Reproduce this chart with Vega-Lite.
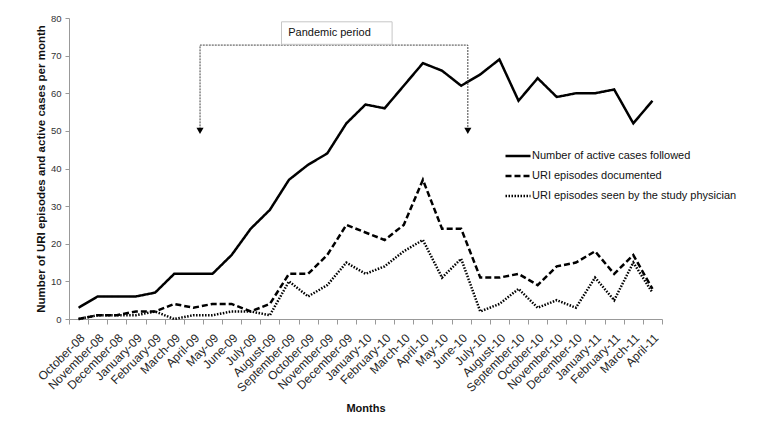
{
  "$schema": "https://vega.github.io/schema/vega-lite/v6.json",
  "width": 593,
  "height": 301,
  "autosize": {"type": "none"},
  "padding": {"left": 69, "top": 18, "right": 98, "bottom": 111},
  "background": "white",
  "config": {
    "view": {"stroke": null},
    "font": "Liberation Sans",
    "axisX": {
      "titleFontSize": 11,
      "titleFontWeight": "bold",
      "titleColor": "#111",
      "titleBaseline": "middle",
      "titleY": 89,
      "labelAngle": -45,
      "labelFontSize": 12,
      "labelColor": "#262626",
      "labelPadding": 8,
      "tickBand": "extent",
      "tickSize": 5,
      "tickColor": "#999",
      "domainColor": "#999",
      "grid": false
    },
    "axisY": {
      "titleFontSize": 11.5,
      "titleFontWeight": "bold",
      "titleColor": "#111",
      "labelFontSize": 9.5,
      "labelColor": "#333",
      "labelPadding": 4,
      "tickSize": 4,
      "tickColor": "#999",
      "domainColor": "#999",
      "grid": false
    }
  },
  "datasets": {
    "series": [
      {"month": "October-08", "series": "Number of active cases followed", "value": 3},
      {"month": "November-08", "series": "Number of active cases followed", "value": 6},
      {"month": "December-08", "series": "Number of active cases followed", "value": 6},
      {"month": "January-09", "series": "Number of active cases followed", "value": 6},
      {"month": "February-09", "series": "Number of active cases followed", "value": 7},
      {"month": "March-09", "series": "Number of active cases followed", "value": 12},
      {"month": "April-09", "series": "Number of active cases followed", "value": 12},
      {"month": "May-09", "series": "Number of active cases followed", "value": 12},
      {"month": "June-09", "series": "Number of active cases followed", "value": 17},
      {"month": "July-09", "series": "Number of active cases followed", "value": 24},
      {"month": "August-09", "series": "Number of active cases followed", "value": 29},
      {"month": "September-09", "series": "Number of active cases followed", "value": 37},
      {"month": "October-09", "series": "Number of active cases followed", "value": 41},
      {"month": "November-09", "series": "Number of active cases followed", "value": 44},
      {"month": "December-09", "series": "Number of active cases followed", "value": 52},
      {"month": "January-10", "series": "Number of active cases followed", "value": 57},
      {"month": "February-10", "series": "Number of active cases followed", "value": 56},
      {"month": "March-10", "series": "Number of active cases followed", "value": 62},
      {"month": "April-10", "series": "Number of active cases followed", "value": 68},
      {"month": "May-10", "series": "Number of active cases followed", "value": 66},
      {"month": "June-10", "series": "Number of active cases followed", "value": 62},
      {"month": "July-10", "series": "Number of active cases followed", "value": 65},
      {"month": "August-10", "series": "Number of active cases followed", "value": 69},
      {"month": "September-10", "series": "Number of active cases followed", "value": 58},
      {"month": "October-10", "series": "Number of active cases followed", "value": 64},
      {"month": "November-10", "series": "Number of active cases followed", "value": 59},
      {"month": "December-10", "series": "Number of active cases followed", "value": 60},
      {"month": "January-11", "series": "Number of active cases followed", "value": 60},
      {"month": "February-11", "series": "Number of active cases followed", "value": 61},
      {"month": "March-11", "series": "Number of active cases followed", "value": 52},
      {"month": "April-11", "series": "Number of active cases followed", "value": 58},
      {"month": "October-08", "series": "URI episodes documented", "value": 0},
      {"month": "November-08", "series": "URI episodes documented", "value": 1},
      {"month": "December-08", "series": "URI episodes documented", "value": 1},
      {"month": "January-09", "series": "URI episodes documented", "value": 2},
      {"month": "February-09", "series": "URI episodes documented", "value": 2},
      {"month": "March-09", "series": "URI episodes documented", "value": 4},
      {"month": "April-09", "series": "URI episodes documented", "value": 3},
      {"month": "May-09", "series": "URI episodes documented", "value": 4},
      {"month": "June-09", "series": "URI episodes documented", "value": 4},
      {"month": "July-09", "series": "URI episodes documented", "value": 2},
      {"month": "August-09", "series": "URI episodes documented", "value": 4},
      {"month": "September-09", "series": "URI episodes documented", "value": 12},
      {"month": "October-09", "series": "URI episodes documented", "value": 12},
      {"month": "November-09", "series": "URI episodes documented", "value": 17},
      {"month": "December-09", "series": "URI episodes documented", "value": 25},
      {"month": "January-10", "series": "URI episodes documented", "value": 23},
      {"month": "February-10", "series": "URI episodes documented", "value": 21},
      {"month": "March-10", "series": "URI episodes documented", "value": 25},
      {"month": "April-10", "series": "URI episodes documented", "value": 37},
      {"month": "May-10", "series": "URI episodes documented", "value": 24},
      {"month": "June-10", "series": "URI episodes documented", "value": 24},
      {"month": "July-10", "series": "URI episodes documented", "value": 11},
      {"month": "August-10", "series": "URI episodes documented", "value": 11},
      {"month": "September-10", "series": "URI episodes documented", "value": 12},
      {"month": "October-10", "series": "URI episodes documented", "value": 9},
      {"month": "November-10", "series": "URI episodes documented", "value": 14},
      {"month": "December-10", "series": "URI episodes documented", "value": 15},
      {"month": "January-11", "series": "URI episodes documented", "value": 18},
      {"month": "February-11", "series": "URI episodes documented", "value": 12},
      {"month": "March-11", "series": "URI episodes documented", "value": 17},
      {"month": "April-11", "series": "URI episodes documented", "value": 8},
      {"month": "October-08", "series": "URI episodes seen by the study physician", "value": 0},
      {"month": "November-08", "series": "URI episodes seen by the study physician", "value": 1},
      {"month": "December-08", "series": "URI episodes seen by the study physician", "value": 1},
      {"month": "January-09", "series": "URI episodes seen by the study physician", "value": 1},
      {"month": "February-09", "series": "URI episodes seen by the study physician", "value": 2},
      {"month": "March-09", "series": "URI episodes seen by the study physician", "value": 0},
      {"month": "April-09", "series": "URI episodes seen by the study physician", "value": 1},
      {"month": "May-09", "series": "URI episodes seen by the study physician", "value": 1},
      {"month": "June-09", "series": "URI episodes seen by the study physician", "value": 2},
      {"month": "July-09", "series": "URI episodes seen by the study physician", "value": 2},
      {"month": "August-09", "series": "URI episodes seen by the study physician", "value": 1},
      {"month": "September-09", "series": "URI episodes seen by the study physician", "value": 10},
      {"month": "October-09", "series": "URI episodes seen by the study physician", "value": 6},
      {"month": "November-09", "series": "URI episodes seen by the study physician", "value": 9},
      {"month": "December-09", "series": "URI episodes seen by the study physician", "value": 15},
      {"month": "January-10", "series": "URI episodes seen by the study physician", "value": 12},
      {"month": "February-10", "series": "URI episodes seen by the study physician", "value": 14},
      {"month": "March-10", "series": "URI episodes seen by the study physician", "value": 18},
      {"month": "April-10", "series": "URI episodes seen by the study physician", "value": 21},
      {"month": "May-10", "series": "URI episodes seen by the study physician", "value": 11},
      {"month": "June-10", "series": "URI episodes seen by the study physician", "value": 16},
      {"month": "July-10", "series": "URI episodes seen by the study physician", "value": 2},
      {"month": "August-10", "series": "URI episodes seen by the study physician", "value": 4},
      {"month": "September-10", "series": "URI episodes seen by the study physician", "value": 8},
      {"month": "October-10", "series": "URI episodes seen by the study physician", "value": 3},
      {"month": "November-10", "series": "URI episodes seen by the study physician", "value": 5},
      {"month": "December-10", "series": "URI episodes seen by the study physician", "value": 3},
      {"month": "January-11", "series": "URI episodes seen by the study physician", "value": 11},
      {"month": "February-11", "series": "URI episodes seen by the study physician", "value": 5},
      {"month": "March-11", "series": "URI episodes seen by the study physician", "value": 15},
      {"month": "April-11", "series": "URI episodes seen by the study physician", "value": 7}
    ],
    "bracket": [
      {"month": "April-09", "value": 50.4, "k": 1},
      {"month": "April-09", "value": 72.8, "k": 2},
      {"month": "June-10", "value": 72.8, "k": 3},
      {"month": "June-10", "value": 50.4, "k": 4}
    ],
    "arrows": [
      {"month": "April-09", "value": 50.0},
      {"month": "June-10", "value": 50.0}
    ],
    "box": [
      {"month": "December-09", "value": 76.0}
    ],
    "label": [
      {"month": "September-09", "value": 75.9, "text": "Pandemic period"}
    ]
  },
  "encoding": {
    "x": {
      "field": "month",
      "type": "ordinal",
      "title": "Months",
      "scale": {
        "type": "band",
        "paddingInner": 0,
        "paddingOuter": 0,
        "domain": ["October-08", "November-08", "December-08", "January-09", "February-09", "March-09", "April-09", "May-09", "June-09", "July-09", "August-09", "September-09", "October-09", "November-09", "December-09", "January-10", "February-10", "March-10", "April-10", "May-10", "June-10", "July-10", "August-10", "September-10", "October-10", "November-10", "December-10", "January-11", "February-11", "March-11", "April-11"]
      }
    },
    "y": {
      "field": "value",
      "type": "quantitative",
      "title": "Number of URI episodes and active cases per month\u00a0\u00a0\u00a0\u00a0\u00a0\u00a0\u00a0\u00a0",
      "scale": {"domain": [0, 80], "nice": false},
      "axis": {
        "values": [0, 10, 20, 30, 40, 50, 60, 70, 80]
      }
    }
  },
  "layer": [
    {
      "data": {"name": "series"},
      "mark": {"type": "line", "color": "black", "strokeJoin": "miter"},
      "encoding": {
        "strokeDash": {
          "field": "series",
          "type": "nominal",
          "scale": {
            "domain": ["Number of active cases followed", "URI episodes documented", "URI episodes seen by the study physician"],
            "range": [[1, 0], [6, 3], [1.5, 1.5]]
          },
          "legend": {
            "title": null,
            "orient": "none",
            "legendX": 435,
            "legendY": 124,
            "padding": 0,
            "symbolType": "stroke",
            "symbolSize": 625,
            "symbolStrokeColor": "black",
            "labelFontSize": 11,
            "labelColor": "#111",
            "labelOffset": 0,
            "labelLimit": 400,
            "rowPadding": 1
          }
        },
        "strokeWidth": {
          "field": "series",
          "type": "nominal",
          "scale": {
            "domain": ["Number of active cases followed", "URI episodes documented", "URI episodes seen by the study physician"],
            "range": [2.5, 2.5, 1.6]
          },
          "legend": {
            "title": null,
            "orient": "none",
            "legendX": 435,
            "legendY": 124,
            "padding": 0,
            "symbolType": "stroke",
            "symbolSize": 625,
            "symbolStrokeColor": "black",
            "labelFontSize": 11,
            "labelColor": "#111",
            "labelOffset": 0,
            "labelLimit": 400,
            "rowPadding": 1
          }
        }
      }
    },
    {
      "data": {"name": "bracket"},
      "mark": {"type": "line", "color": "#444", "strokeWidth": 1, "strokeDash": [2, 1]},
      "encoding": {
        "x": {"field": "month", "type": "ordinal", "bandPosition": 0.85},
        "order": {"field": "k", "type": "quantitative"}
      }
    },
    {
      "data": {"name": "arrows"},
      "mark": {"type": "point", "shape": "triangle-down", "filled": true, "color": "black", "size": 50, "opacity": 1},
      "encoding": {
        "x": {"field": "month", "type": "ordinal", "bandPosition": 0.85}
      }
    },
    {
      "data": {"name": "box"},
      "mark": {"type": "point", "shape": "M-1,-0.2034H1V0.2034H-1Z", "size": 12232, "fill": "white", "stroke": "#c6c6c6", "strokeWidth": 1, "opacity": 1, "fillOpacity": 1, "strokeOpacity": 1},
      "encoding": {
        "x": {"field": "month", "type": "ordinal", "bandPosition": 0.0}
      }
    },
    {
      "data": {"name": "label"},
      "mark": {"type": "text", "align": "left", "baseline": "middle", "fontSize": 11, "color": "#111"},
      "encoding": {
        "x": {"field": "month", "type": "ordinal", "bandPosition": 0.46},
        "text": {"field": "text"}
      }
    }
  ]
}
